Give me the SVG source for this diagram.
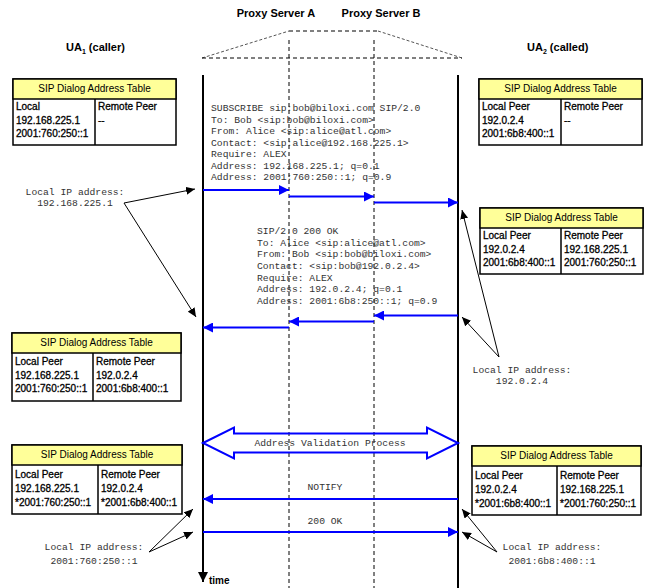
<svg xmlns="http://www.w3.org/2000/svg" width="645" height="588" viewBox="0 0 645 588">
<defs>
<style>
.hdr{font-family:"Liberation Sans",Arial,sans-serif;font-weight:bold;font-size:11px;fill:#000}
.sub{font-size:7px}
.tt{font-family:"Liberation Sans",Arial,sans-serif;font-size:10px;fill:#000}
.tr{stroke:#000;stroke-width:0.3}
.th{fill:#ffff99;stroke:#000;stroke-width:1.5}
.tb{fill:#fff;stroke:#000;stroke-width:1.5}
.mono{font-family:"Liberation Mono","Courier New",monospace;font-size:9.7px;fill:#333}
.life{stroke:#000;stroke-width:2;fill:none}
.proxy{stroke:#000;stroke-width:1;stroke-dasharray:4,3;fill:none}
.msg{stroke:#0000ff;stroke-width:2;fill:none}
.call{stroke:#000;stroke-width:1;fill:none}
</style>
<marker id="ab" markerUnits="userSpaceOnUse" markerWidth="10" markerHeight="10" refX="10" refY="5" orient="auto"><path d="M0,0 L10,5 L0,10 z" fill="#0000ff"/></marker>
<marker id="ak" markerUnits="userSpaceOnUse" markerWidth="9" markerHeight="8" refX="9" refY="4" orient="auto"><path d="M0,0 L9,4 L0,8 z" fill="#000"/></marker>
<marker id="at" markerUnits="userSpaceOnUse" markerWidth="10" markerHeight="10" refX="10" refY="5" orient="auto"><path d="M0,0 L10,5 L0,10 z" fill="#000"/></marker>
</defs>
<rect width="645" height="588" fill="#fff"/>

<g id="header">
<text class="hdr" x="276" y="17" text-anchor="middle">Proxy Server A</text>
<text class="hdr" x="381" y="17" text-anchor="middle">Proxy Server B</text>
<text class="hdr" x="66" y="51">UA<tspan class="sub" dy="3">1</tspan><tspan dy="-3"> (caller)</tspan></text>
<text class="hdr" x="527" y="51">UA<tspan class="sub" dy="3">2</tspan><tspan dy="-3"> (called)</tspan></text>
<path d="M202,58 L289,31" stroke="#555" stroke-width="1" stroke-dasharray="3,2" fill="none"/>
<path d="M378,31 L462,58" stroke="#555" stroke-width="1" stroke-dasharray="3,2" fill="none"/>
<path d="M289,31 L378,31" class="proxy"/>
<path d="M202,58 L462,58" class="proxy"/>
</g>

<g id="ua1">
<path d="M203,75 L203,582" class="life" marker-end="url(#at)"/>
<text x="209" y="584" font-family="Liberation Sans, Arial, sans-serif" font-weight="bold" font-size="10">time</text>
</g>
<g id="proxyA"><path d="M289,40 L289,588" class="proxy"/></g>
<g id="proxyB"><path d="M374,40 L374,588" class="proxy"/></g>
<g id="ua2"><path d="M458,75 L458,588" class="life"/></g>

<g id="table1">
<rect class="tb" x="13" y="79" width="163" height="66"/>
<rect class="th" x="13" y="79" width="163" height="20"/>
<line x1="95" y1="99" x2="95" y2="145" stroke="#000" stroke-width="1.5"/>
<text class="tt" x="94.5" y="92" text-anchor="middle">SIP Dialog Address Table</text>
<g class="tt tr">
<text x="16" y="110">Local</text>
<text x="16" y="123.5">192.168.225.1</text>
<text x="16" y="137">2001:760:250::1</text>
<text x="98" y="110">Remote Peer</text>
<text x="98" y="123.5">--</text>
</g>
</g>

<g id="table2">
<rect class="tb" x="479" y="79" width="163" height="66"/>
<rect class="th" x="479" y="79" width="163" height="20"/>
<line x1="561" y1="99" x2="561" y2="145" stroke="#000" stroke-width="1.5"/>
<text class="tt" x="560.5" y="92" text-anchor="middle">SIP Dialog Address Table</text>
<g class="tt tr">
<text x="482" y="110">Local Peer</text>
<text x="482" y="123.5">192.0.2.4</text>
<text x="482" y="137">2001:6b8:400::1</text>
<text x="564" y="110">Remote Peer</text>
<text x="564" y="123.5">--</text>
</g>
</g>

<g id="table3">
<rect class="tb" x="480" y="208" width="163" height="66"/>
<rect class="th" x="480" y="208" width="163" height="20"/>
<line x1="561" y1="228" x2="561" y2="274" stroke="#000" stroke-width="1.5"/>
<text class="tt" x="561.5" y="221" text-anchor="middle">SIP Dialog Address Table</text>
<g class="tt tr">
<text x="483" y="239">Local Peer</text>
<text x="483" y="252.5">192.0.2.4</text>
<text x="483" y="266">2001:6b8:400::1</text>
<text x="564" y="239">Remote Peer</text>
<text x="564" y="252.5">192.168.225.1</text>
<text x="564" y="266">2001:760:250::1</text>
</g>
</g>

<g id="table4">
<rect class="tb" x="12" y="333" width="169" height="68"/>
<rect class="th" x="12" y="333" width="169" height="20"/>
<line x1="93" y1="353" x2="93" y2="401" stroke="#000" stroke-width="1.5"/>
<text class="tt" x="96.5" y="346" text-anchor="middle">SIP Dialog Address Table</text>
<g class="tt tr">
<text x="15" y="365">Local Peer</text>
<text x="15" y="378.5">192.168.225.1</text>
<text x="15" y="392">2001:760:250::1</text>
<text x="96" y="365">Remote Peer</text>
<text x="96" y="378.5">192.0.2.4</text>
<text x="96" y="392">2001:6b8:400::1</text>
</g>
</g>

<g id="table5">
<rect class="tb" x="12" y="445" width="170" height="69"/>
<rect class="th" x="12" y="445" width="170" height="20"/>
<line x1="98" y1="465" x2="98" y2="514" stroke="#000" stroke-width="1.5"/>
<text class="tt" x="97" y="458" text-anchor="middle">SIP Dialog Address Table</text>
<g class="tt tr">
<text x="15" y="478">Local Peer</text>
<text x="15" y="492">192.168.225.1</text>
<text x="15" y="506">*2001:760:250::1</text>
<text x="101" y="478">Remote Peer</text>
<text x="101" y="492">192.0.2.4</text>
<text x="101" y="506">*2001:6b8:400::1</text>
</g>
</g>

<g id="table6">
<rect class="tb" x="472" y="446" width="169" height="69"/>
<rect class="th" x="472" y="446" width="169" height="20"/>
<line x1="557" y1="466" x2="557" y2="515" stroke="#000" stroke-width="1.5"/>
<text class="tt" x="556.5" y="459" text-anchor="middle">SIP Dialog Address Table</text>
<g class="tt tr">
<text x="475" y="479">Local Peer</text>
<text x="475" y="493">192.0.2.4</text>
<text x="475" y="507">*2001:6b8:400::1</text>
<text x="560" y="479">Remote Peer</text>
<text x="560" y="493">192.168.225.1</text>
<text x="560" y="507">*2001:760:250::1</text>
</g>
</g>

<g id="subscribe-text">
<text class="mono" x="211" y="111">SUBSCRIBE sip:bob@biloxi.com SIP/2.0</text>
<text class="mono" x="211" y="122.5">To: Bob &lt;sip:bob@biloxi.com&gt;</text>
<text class="mono" x="211" y="134">From: Alice &lt;sip:alice@atl.com&gt;</text>
<text class="mono" x="211" y="145.5">Contact: &lt;sip:alice@192.168.225.1&gt;</text>
<text class="mono" x="211" y="157">Require: ALEX</text>
<text class="mono" x="211" y="168.5">Address: 192.168.225.1; q=0.1</text>
<text class="mono" x="211" y="180">Address: 2001:760:250::1; q=0.9</text>
</g>

<g id="ok-text">
<text class="mono" x="257" y="234">SIP/2.0 200 OK</text>
<text class="mono" x="257" y="245.7">To: Alice &lt;sip:alice@atl.com&gt;</text>
<text class="mono" x="257" y="257.3">From: Bob &lt;sip:bob@biloxi.com&gt;</text>
<text class="mono" x="257" y="269">Contact: &lt;sip:bob@192.0.2.4&gt;</text>
<text class="mono" x="257" y="280.6">Require: ALEX</text>
<text class="mono" x="257" y="292.3">Address: 192.0.2.4; q=0.1</text>
<text class="mono" x="257" y="304">Address: 2001:6b8:250::1; q=0.9</text>
</g>

<g id="labels">
<text class="mono" x="75" y="195" text-anchor="middle">Local IP address:</text>
<text class="mono" x="75" y="206" text-anchor="middle">192.168.225.1</text>
<text class="mono" x="522" y="372.5" text-anchor="middle">Local IP address:</text>
<text class="mono" x="522" y="384" text-anchor="middle">192.0.2.4</text>
<text class="mono" x="94" y="550" text-anchor="middle">Local IP address:</text>
<text class="mono" x="94" y="564" text-anchor="middle">2001:760:250::1</text>
<text class="mono" x="552" y="550" text-anchor="middle">Local IP address:</text>
<text class="mono" x="552" y="564" text-anchor="middle">2001:6b8:400::1</text>
<text class="mono" x="330" y="446" text-anchor="middle">Address Validation Process</text>
<text class="mono" x="325" y="490" text-anchor="middle">NOTIFY</text>
<text class="mono" x="325" y="524" text-anchor="middle">200 OK</text>
</g>

<g id="connectors">
<path class="msg" d="M203,190 L289,190" marker-end="url(#ab)"/>
<path class="msg" d="M289,196.5 L374,196.5" marker-end="url(#ab)"/>
<path class="msg" d="M374,202.5 L458,202.5" marker-end="url(#ab)"/>
<path class="msg" d="M458,315.5 L374,315.5" marker-end="url(#ab)"/>
<path class="msg" d="M374,321.5 L289,321.5" marker-end="url(#ab)"/>
<path class="msg" d="M289,327.5 L203,327.5" marker-end="url(#ab)"/>
<path class="msg" d="M458,499 L203,499" marker-end="url(#ab)"/>
<path class="msg" d="M203,532 L458,532" marker-end="url(#ab)"/>
<path d="M203,443 L234,427.5 L234,433.5 L427,433.5 L427,427.5 L458,443 L427,458.5 L427,452.5 L234,452.5 L234,458.5 Z" fill="none" stroke="#0000ff" stroke-width="2" stroke-linejoin="miter"/>
<path class="call" d="M124,203 L195,189" marker-end="url(#ak)"/>
<path class="call" d="M124,203 L196,317" marker-end="url(#ak)"/>
<path class="call" d="M499,357 L462,210" marker-end="url(#ak)"/>
<path class="call" d="M499,357 L462,317" marker-end="url(#ak)"/>
<path class="call" d="M149,552 L193,509" marker-end="url(#ak)"/>
<path class="call" d="M149,552 L193,532" marker-end="url(#ak)"/>
<path class="call" d="M497,552 L462,509" marker-end="url(#ak)"/>
<path class="call" d="M497,552 L462,532" marker-end="url(#ak)"/>
</g>
</svg>
